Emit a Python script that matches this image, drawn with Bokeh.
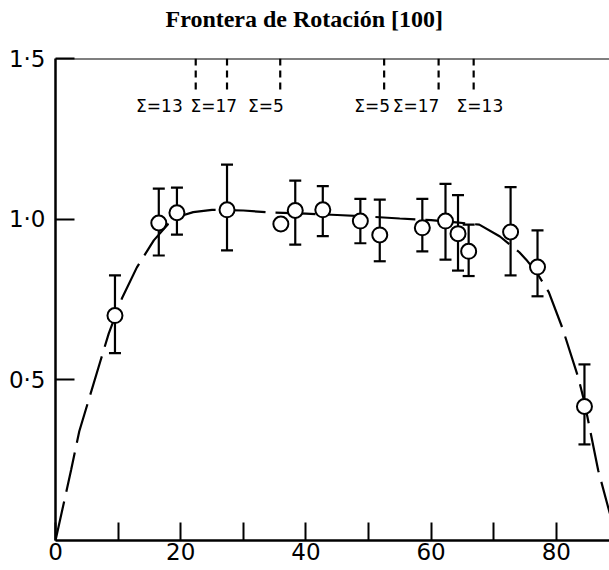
import math
from bokeh.plotting import figure
from bokeh.models import FixedTicker, Span, Title
from bokeh.embed import file_html
from bokeh.resources import INLINE
from bokeh.core.properties import value

nan = float("nan")

# measured points (misorientation angle, relative energy) with error bars
angle = [9.5, 16.5, 19.4, 27.4, 36.0, 38.3, 42.7, 48.7, 51.8, 58.6, 62.3, 64.3, 66.0, 72.7, 77.0, 84.5]
energy = [0.70, 0.988, 1.02, 1.029, 0.985, 1.027, 1.029, 0.994, 0.951, 0.973, 0.994, 0.955, 0.900, 0.960, 0.851, 0.417]
err_hi = [0.825, 1.095, 1.098, 1.17, nan, 1.12, 1.103, 1.063, 1.061, 1.063, 1.110, 1.075, 0.983, 1.10, 0.965, 0.548]
err_lo = [0.583, 0.887, 0.952, 0.903, nan, 0.921, 0.947, 0.925, 0.869, 0.900, 0.874, 0.840, 0.823, 0.825, 0.760, 0.299]

# dashed guide curve
curve_x = [0, 2.5, 3.8, 7.2, 8.5, 10.6, 13, 15.7, 18, 20, 22, 25, 30, 34, 40, 45, 50, 55, 60, 64,
           67.7, 71, 74.1, 75.2, 77, 78.8, 81, 83.5, 84.5, 86.7, 88.5, 90]
curve_y = [0, 0.22, 0.34, 0.56, 0.644, 0.753, 0.85, 0.934, 0.985, 1.01, 1.022, 1.029, 1.027, 1.021, 1.017,
           1.013, 1.008, 1.002, 0.997, 0.99, 0.983, 0.946, 0.897, 0.874, 0.83, 0.773, 0.66, 0.508, 0.43,
           0.218, 0.088, 0]

# coincidence boundaries
sigma_x = [22.4, 27.4, 35.9, 52.5, 61.2, 66.8]
sigma_text = ["Σ=13", "Σ=17", "Σ=5", "Σ=5", "Σ=17", "Σ=13"]
sigma_label_x = [16.6, 25.3, 33.6, 50.6, 57.6, 67.8]
sigma_top = 1.5
sigma_bottom = 1.39
sigma_label_y = 1.352

title_text = "Frontera de Rotación [100]"

x_ticks = [0, 10, 20, 30, 40, 50, 60, 70, 80]
x_labels = {0: "0", 10: "", 20: "20", 30: "", 40: "40", 50: "", 60: "60", 70: "", 80: "80"}
y_ticks = [0.5, 1.0, 1.5]
y_labels = {0.5: "0·5", 1.0: "1·0", 1.5: "1·5"}

p = figure(width=609, height=570, x_range=(0, 88.5), y_range=(0, 1.5),
           output_backend="svg", toolbar_location=None,
           min_border_left=55, min_border_right=0, min_border_top=58, min_border_bottom=30,
           title=title_text)
p.title.align = "left"
p.title.vertical_align = "top"
p.title.offset = 110
p.title.standoff = 0
p.title.text_font = "Liberation Serif"
p.title.text_font_size = "24px"
p.title.text_font_style = "bold"
p.title.text_color = "black"
# empty spacer between the title and the plot frame
p.add_layout(Title(text=" ", text_font_size="2px", standoff=21), "above")

p.outline_line_color = None
p.xgrid.visible = False
p.ygrid.visible = False
p.background_fill_color = "white"
p.border_fill_color = "white"

for ax in (p.xaxis, p.yaxis):
    ax.axis_line_width = 2.5
    ax.axis_line_color = "black"
    ax.major_tick_line_width = 2
    ax.major_tick_line_color = "black"
    ax.minor_tick_line_color = None
    ax.major_tick_out = 0
    ax.major_label_text_font = "DejaVu Sans"
    ax.major_label_text_color = "black"
    ax.major_label_text_font_size = "23px"

p.xaxis.ticker = FixedTicker(ticks=x_ticks)
p.xaxis.major_label_overrides = x_labels
p.xaxis.major_tick_in = 18
p.xaxis.major_label_standoff = 2
p.yaxis.ticker = FixedTicker(ticks=y_ticks)
p.yaxis.major_label_overrides = y_labels
p.yaxis.major_tick_in = 19
p.yaxis.major_label_standoff = 10

p.add_layout(Span(location=1.5, dimension="width", line_color="black", line_width=2))

p.line(curve_x, curve_y, line_color="black", line_width=2.2, line_dash="40 10")

p.segment(x0=sigma_x, y0=[sigma_top] * len(sigma_x), x1=sigma_x, y1=[sigma_bottom] * len(sigma_x),
          line_color="black", line_width=2.2, line_dash="7 5")
p.text(x=sigma_label_x, y=[sigma_label_y] * len(sigma_x), text=sigma_text,
       text_align="center", text_baseline="middle",
       text_font=value("DejaVu Sans"), text_font_size="17px", text_color="black")

p.segment(x0=angle, y0=err_lo, x1=angle, y1=err_hi, line_color="black", line_width=2.2)
p.scatter(angle, err_hi, marker="dash", size=12, line_color="black", line_width=2.2)
p.scatter(angle, err_lo, marker="dash", size=12, line_color="black", line_width=2.2)
p.scatter(angle, energy, marker="circle", size=15, fill_color="white",
          line_color="black", line_width=2)

open("out.html", "w").write(file_html(p, INLINE))
